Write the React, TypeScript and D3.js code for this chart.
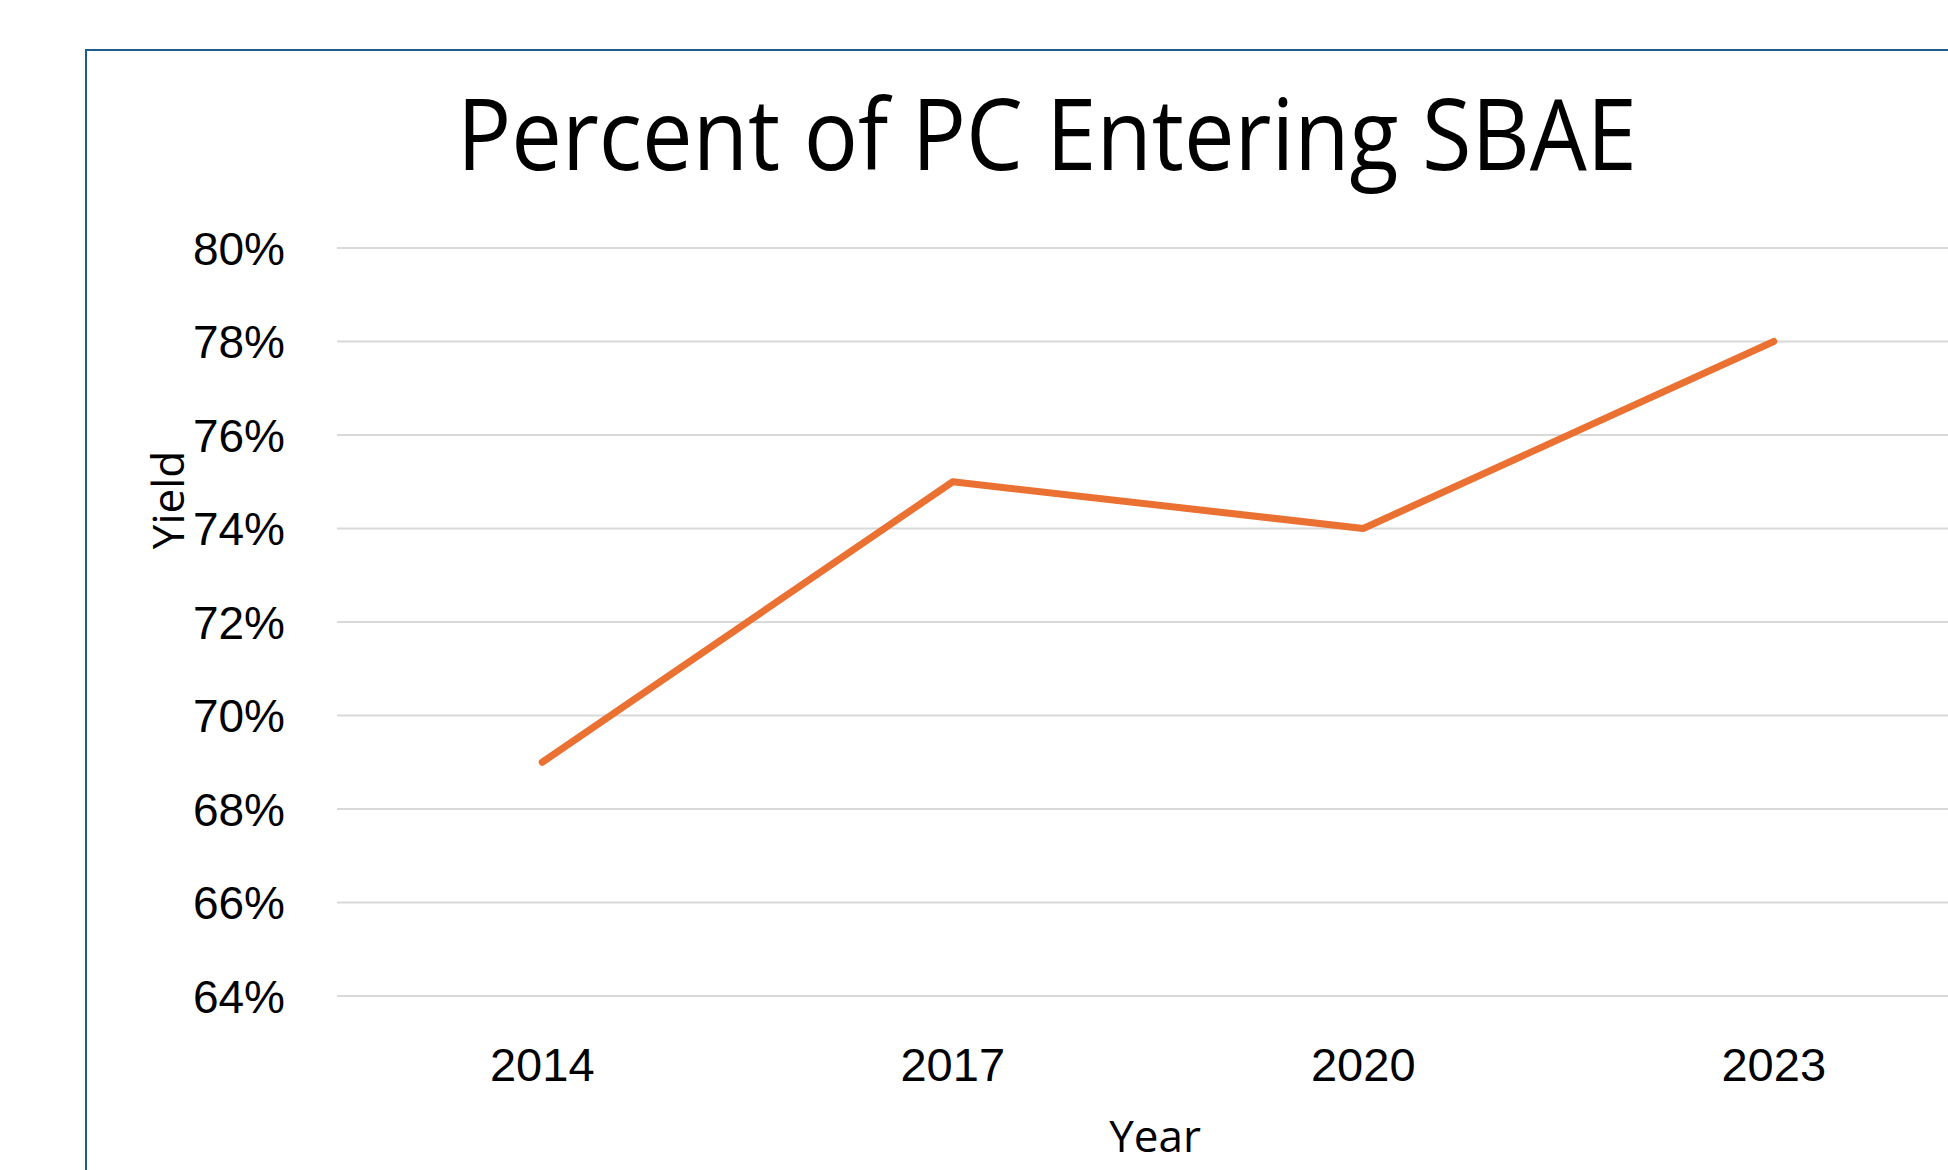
import React from "react";
import * as d3 from "d3";

const years = ["2014", "2017", "2020", "2023"];
const yieldValues = [0.69, 0.75, 0.74, 0.78];
const yTicks = [0.64, 0.66, 0.68, 0.7, 0.72, 0.74, 0.76, 0.78, 0.8];
const titleText = "Percent of PC Entering SBAE";
const xTitle = "Year";
const yTitle = "Yield";

const W = 1948;
const H = 1170;
const plotLeft = 337;
const plotRight = 1979;
const plotTop = 248;
const plotBottom = 996;

export default function App() {
  const x = d3.scaleBand<string>().domain(years).range([plotLeft, plotRight]);
  const y = d3.scaleLinear().domain([0.64, 0.8]).range([plotBottom, plotTop]);
  const fmt = d3.format(".0%");
  const line = d3
    .line<number>()
    .x((_, i) => (x(years[i]) as number) + x.bandwidth() / 2)
    .y((d) => y(d));

  return (
    <svg
      width={W}
      height={H}
      style={{ position: "fixed", left: 0, top: 0, background: "#fff" }}
    >
      <rect x={0} y={0} width={W} height={H} fill="#fff" />
      <rect
        x={86}
        y={50}
        width={W}
        height={H}
        fill="#fff"
        stroke="#1f5b86"
        strokeWidth={2}
      />
      <text
        x={1047}
        y={170}
        textAnchor="middle"
        fontFamily="'Open Sans', sans-serif"
        fontSize={98}
        textLength={1180}
        lengthAdjust="spacingAndGlyphs"
        fill="#000"
      >
        {titleText}
      </text>
      {yTicks.map((t) => (
        <g key={t}>
          <line
            x1={plotLeft}
            x2={W}
            y1={y(t)}
            y2={y(t)}
            stroke="#d9d9d9"
            strokeWidth={2}
          />
          <text
            x={285}
            y={y(t)}
            dy="0.36em"
            textAnchor="end"
            fontFamily="'Liberation Sans', Arial, sans-serif"
            fontSize={46}
            fill="#000"
          >
            {fmt(t)}
          </text>
        </g>
      ))}
      {years.map((yr) => (
        <text
          key={yr}
          x={(x(yr) as number) + x.bandwidth() / 2}
          y={1081}
          textAnchor="middle"
          fontFamily="'Liberation Sans', Arial, sans-serif"
          fontSize={47}
          fill="#000"
        >
          {yr}
        </text>
      ))}
      <path
        d={line(yieldValues) || ""}
        fill="none"
        stroke="#eb7133"
        strokeWidth={7}
        strokeLinecap="round"
        strokeLinejoin="round"
      />
      <text
        x={1155}
        y={1152}
        textAnchor="middle"
        fontFamily="'Open Sans', sans-serif"
        fontSize={44}
        fill="#000"
      >
        {xTitle}
      </text>
      <text
        transform={`translate(184,500) rotate(-90)`}
        textAnchor="middle"
        fontFamily="'Open Sans', sans-serif"
        fontSize={44}
        fill="#000"
      >
        {yTitle}
      </text>
    </svg>
  );
}
